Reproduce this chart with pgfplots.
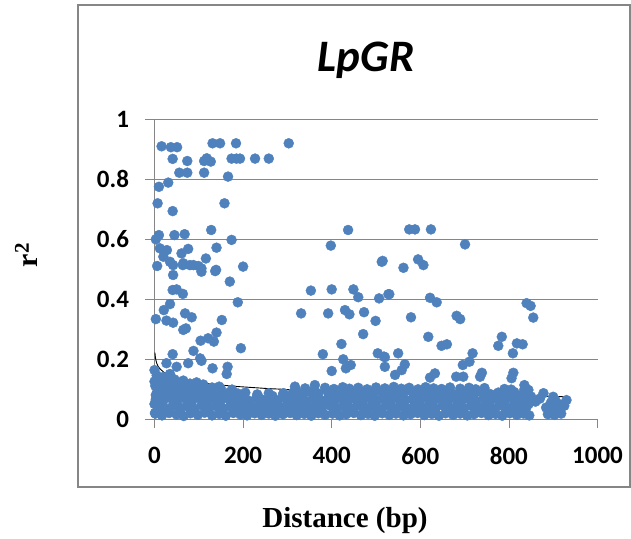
\documentclass[border=0pt]{standalone}
\usepackage{fontspec}
\setmainfont{Carlito}
\newfontfamily\tnr{Liberation Serif}
\usepackage{pgfplots}
\pgfplotsset{compat=1.18}
\definecolor{dotblue}{RGB}{79,129,189}
\definecolor{gridgray}{RGB}{134,134,134}
\begin{document}
\begin{tikzpicture}
\path[use as bounding box] (-154.5pt,-119pt) rectangle (476.5pt,419pt);
\draw[gridgray, line width=1.6pt] (-76.5pt,-68pt) rectangle (475.5pt,414pt);
\begin{axis}[
  scale only axis, width=443pt, height=300pt,
  at={(0pt,0pt)}, anchor=south west,
  xmin=0, xmax=1000, ymin=0, ymax=1, clip=false,
  axis x line*=bottom, axis y line*=left,
  axis line style={gridgray, line width=0.8pt, -},
  xtick={0,200,400,600,800,1000}, ytick={0,0.2,0.4,0.6,0.8,1},
  ymajorgrids, grid style={gridgray, line width=0.8pt},
  tick align=outside, major tick length=9pt,
  tick style={gridgray, line width=0.8pt},
  ticklabel style={font=\fontsize{25}{30}\selectfont\bfseries},
  xticklabel style={yshift=-16pt},
  yticklabel style={xshift=-13pt},
  /pgf/number format/assume math mode=true,
  /pgf/number format/1000 sep={},
]
\addplot[dotblue, only marks, mark=*, mark size=5pt, mark options={draw=none, fill=dotblue}] coordinates {
(16,0.909)(37,0.906)(51,0.906)(131,0.919)(148,0.919)(184,0.919)(303,0.919)
(41,0.867)(74,0.860)(112,0.860)(118,0.869)(127,0.858)(174,0.868)(185,0.868)(193,0.868)(227,0.868)(258,0.868)
(56,0.821)(74,0.821)(112,0.821)(166,0.808)(10,0.774)(31,0.788)(7,0.719)(41,0.693)(158,0.719)
(10,0.613)(45,0.613)(68,0.616)(128,0.630)(3,0.599)(12,0.569)(28,0.563)(76,0.567)(140,0.571)(174,0.597)
(398,0.578)(437,0.630)(513,0.524)
(20,0.541)(35,0.524)(42,0.513)(61,0.552)(116,0.535)
(6,0.510)(64,0.513)(80,0.513)(99,0.510)(106,0.502)(139,0.497)(200,0.508)
(42,0.480)(65,0.519)(88,0.513)(106,0.491)(137,0.493)(170,0.458)
(41,0.430)(50,0.432)(64,0.417)(188,0.389)(353,0.428)(400,0.432)(449,0.432)(460,0.406)(507,0.402)(528,0.416)
(3,0.333)(21,0.363)(35,0.383)(27,0.328)(42,0.321)(69,0.352)(84,0.339)(152,0.330)
(65,0.297)(71,0.302)(104,0.261)(121,0.269)(134,0.258)(140,0.288)(195,0.236)
(331,0.352)(392,0.352)(430,0.363)(440,0.349)(473,0.356)(471,0.283)(499,0.327)(422,0.250)(380,0.216)(426,0.199)(400,0.160)(432,0.169)(443,0.180)(504,0.219)(520,0.206)
(41,0.216)(88,0.227)(106,0.194)(103,0.202)(76,0.186)(131,0.169)(165,0.174)(163,0.150)(0,0.163)(27,0.186)(50,0.174)(146,0.108)(291,0.086)(317,0.108)(362,0.113)
(575,0.632)(588,0.632)(624,0.632)(701,0.582)(515,0.527)(562,0.504)(595,0.532)(607,0.513)(530,0.416)(622,0.404)(637,0.389)(579,0.339)(682,0.344)(690,0.333)(840,0.386)(849,0.377)(855,0.338)(618,0.274)(648,0.244)(660,0.249)(784,0.274)(776,0.244)(818,0.252)(831,0.249)(809,0.219)(718,0.219)(711,0.191)(696,0.180)(550,0.219)(518,0.208)(520,0.174)(565,0.182)(558,0.163)(543,0.147)(633,0.152)(622,0.138)(681,0.141)(697,0.141)(739,0.154)(735,0.141)(810,0.154)(806,0.136)(835,0.113)(844,0.097)(878,0.086)(900,0.074)(930,0.063)
(2,0.018)(17,0.012)(33,0.020)(50,0.015)(66,0.010)(81,0.019)(98,0.014)(113,0.021)(130,0.012)(146,0.017)(161,0.011)(178,0.020)(194,0.015)(209,0.012)(226,0.019)(242,0.014)(258,0.018)(273,0.011)(290,0.016)(306,0.020)(321,0.013)(338,0.017)(354,0.011)(370,0.019)(385,0.014)(402,0.018)(418,0.012)(433,0.016)(450,0.020)(466,0.013)(482,0.017)(497,0.011)(514,0.019)(530,0.014)(545,0.018)(562,0.012)(578,0.016)(594,0.020)(609,0.013)(626,0.017)(642,0.011)(657,0.019)(674,0.014)(690,0.018)(706,0.012)(721,0.016)(738,0.020)(754,0.013)(770,0.017)(785,0.011)(802,0.019)(818,0.014)(833,0.018)(846,0.012)(888,0.016)(903,0.014)(918,0.018)
(8,0.040)(25,0.035)(41,0.044)(58,0.038)(74,0.042)(90,0.034)(106,0.046)(122,0.039)(138,0.043)(154,0.036)(170,0.041)(186,0.045)(202,0.037)(218,0.042)(234,0.035)(250,0.044)(266,0.038)(282,0.041)(298,0.036)(314,0.045)(330,0.039)(346,0.043)(362,0.035)(378,0.040)(394,0.046)(410,0.037)(426,0.042)(442,0.036)(458,0.044)(474,0.039)(490,0.041)(506,0.035)(522,0.045)(538,0.038)(554,0.042)(570,0.036)(586,0.044)(602,0.039)(618,0.041)(634,0.035)(650,0.045)(666,0.038)(682,0.042)(698,0.036)(714,0.044)(730,0.039)(746,0.041)(762,0.035)(778,0.045)(794,0.038)(810,0.042)(826,0.036)(840,0.040)(884,0.038)(900,0.042)(915,0.035)(925,0.044)
(3,0.066)(20,0.061)(36,0.070)(52,0.064)(69,0.068)(85,0.060)(101,0.071)(117,0.063)(134,0.067)(150,0.062)(165,0.069)(182,0.064)(198,0.066)(214,0.060)(230,0.070)(246,0.063)(262,0.067)(278,0.061)(295,0.069)(311,0.064)(327,0.066)(343,0.060)(359,0.071)(375,0.063)(391,0.067)(407,0.062)(423,0.069)(439,0.064)(455,0.066)(471,0.061)(487,0.070)(503,0.063)(519,0.067)(535,0.062)(551,0.069)(567,0.064)(583,0.066)(599,0.060)(615,0.070)(631,0.063)(647,0.067)(663,0.061)(679,0.069)(695,0.064)(711,0.066)(727,0.060)(743,0.071)(759,0.063)(775,0.067)(791,0.062)(807,0.069)(823,0.064)(839,0.060)(860,0.058)(895,0.055)(912,0.050)
(6,0.090)(22,0.085)(39,0.093)(55,0.087)(72,0.091)(88,0.084)(104,0.092)(120,0.086)(137,0.090)(153,0.083)(170,0.089)(188,0.085)(205,0.088)(232,0.082)(258,0.086)(290,0.080)(312,0.087)(335,0.083)(352,0.090)(370,0.085)(392,0.088)(410,0.082)(428,0.091)(446,0.086)(462,0.089)(480,0.084)(497,0.092)(515,0.087)(532,0.090)(548,0.085)(566,0.093)(584,0.086)(600,0.089)(617,0.083)(634,0.091)(652,0.087)(668,0.090)(686,0.084)(704,0.092)(722,0.086)(740,0.089)(758,0.083)(776,0.088)(794,0.085)(812,0.090)(830,0.082)(850,0.075)(870,0.068)(905,0.062)
(2,0.110)(15,0.104)(30,0.112)(46,0.106)(60,0.109)(78,0.103)(95,0.108)(112,0.101)(130,0.105)(150,0.100)(175,0.098)(318,0.099)(340,0.102)(385,0.104)(405,0.100)(425,0.106)(440,0.101)(460,0.104)(480,0.099)(500,0.105)(520,0.102)(540,0.107)(557,0.101)(575,0.104)(595,0.099)(612,0.106)(630,0.102)(648,0.100)(667,0.105)(690,0.101)(710,0.104)(725,0.099)(745,0.103)(790,0.100)(805,0.098)(835,0.099)
(0,0.125)(5,0.145)(12,0.130)(20,0.140)(28,0.125)(35,0.150)(45,0.132)(55,0.120)(65,0.128)(80,0.118)(95,0.122)(110,0.115)(3,0.080)(0,0.050)(1,0.020)
(25,0.025)(57,0.027)(89,0.026)(121,0.028)(153,0.025)(185,0.027)(217,0.026)(249,0.028)(281,0.026)(313,0.027)(345,0.025)(377,0.028)(409,0.026)(441,0.027)(473,0.025)(505,0.028)(537,0.026)(569,0.027)(601,0.025)(633,0.028)(665,0.026)(697,0.027)(729,0.025)(761,0.028)(793,0.026)(825,0.027)(895,0.027)
(13,0.052)(45,0.053)(77,0.051)(109,0.054)(141,0.052)(173,0.053)(205,0.051)(237,0.054)(269,0.052)(301,0.053)(333,0.051)(365,0.054)(397,0.052)(429,0.053)(461,0.051)(493,0.054)(525,0.052)(557,0.053)(589,0.051)(621,0.054)(653,0.052)(685,0.053)(717,0.051)(749,0.054)(781,0.052)(813,0.053)(845,0.051)
(10,0.077)(42,0.076)(74,0.078)(106,0.075)(138,0.077)(170,0.076)(202,0.078)(234,0.075)(266,0.077)(298,0.076)(330,0.078)(362,0.075)(394,0.077)(426,0.076)(458,0.078)(490,0.075)(522,0.077)(554,0.076)(586,0.078)(618,0.075)(650,0.077)(682,0.076)(714,0.078)(746,0.075)(778,0.077)(810,0.076)(842,0.074)
};
\addplot[black, line width=0.9pt, no marks] coordinates {
(1,0.221)(2,0.206)(3,0.197)(5,0.186)(8,0.176)(12,0.168)(20,0.157)(30,0.148)(45,0.139)(65,0.131)(90,0.124)(130,0.116)(180,0.109)(250,0.102)(330,0.096)(420,0.091)(520,0.087)(620,0.083)(720,0.080)(820,0.077)(934,0.074)
};
\end{axis}
\node[anchor=base, font=\fontsize{45}{54}\selectfont\bfseries\itshape] at (211.5pt,347pt) {LpGR};
\node[anchor=base, font=\tnr\bfseries\fontsize{29}{34}\selectfont] at (190.5pt,-108pt) {Distance (bp)};
\node[anchor=base, rotate=90, font=\tnr\bfseries\fontsize{30}{36}\selectfont] at (-116.5pt,164pt) {r\textsuperscript{2}};
\end{tikzpicture}
\end{document}
